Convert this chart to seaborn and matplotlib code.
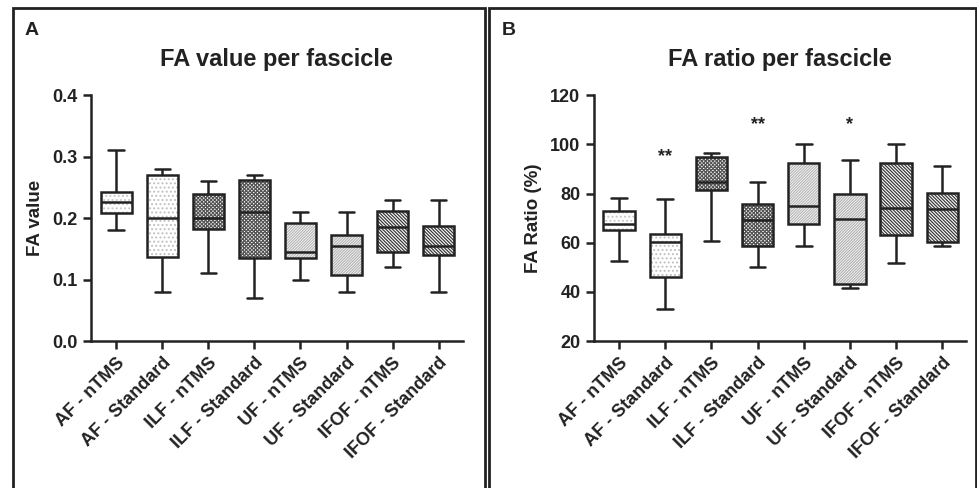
import matplotlib
matplotlib.use('Agg')
import matplotlib.pyplot as plt
import seaborn as sns
import pandas as pd
from matplotlib.patches import Rectangle

# 各组: 最小值, Q1, 中位数, Q3, 最大值
groups = ['AF - nTMS', 'AF - Standard', 'ILF - nTMS', 'ILF - Standard',
          'UF - nTMS', 'UF - Standard', 'IFOF - nTMS', 'IFOF - Standard']

fa_value = [
    [0.18, 0.209, 0.226, 0.243, 0.31],
    [0.08, 0.137, 0.200, 0.270, 0.28],
    [0.11, 0.182, 0.200, 0.240, 0.26],
    [0.07, 0.135, 0.210, 0.262, 0.27],
    [0.10, 0.135, 0.145, 0.192, 0.21],
    [0.08, 0.107, 0.155, 0.172, 0.21],
    [0.12, 0.145, 0.185, 0.212, 0.23],
    [0.08, 0.140, 0.155, 0.188, 0.23],
]

fa_ratio = [
    [52.6, 65.3, 67.5, 72.8, 78.1],
    [33.0, 46.0, 60.5, 63.7, 77.7],
    [60.8, 81.4, 84.8, 94.8, 96.4],
    [50.2, 58.6, 69.2, 75.7, 84.6],
    [58.5, 67.6, 74.9, 92.6, 100.0],
    [41.7, 43.4, 69.6, 80.0, 93.6],
    [51.8, 63.2, 74.1, 92.4, 100.0],
    [58.6, 60.5, 73.8, 80.3, 91.1],
]

# 显著性标记
star_groups = ['AF - Standard', 'ILF - Standard', 'UF - Standard']
star_labels = ['**', '**', '*']
star_y = [95, 108, 108]

hatches = ['....', '....', 'xxxxxxxxx', 'xxxxxxxxx',
           '/' * 12, '/' * 12, '\\' * 10, '\\' * 10]
hatch_colors = ['#c8c8c8', '#c0c0c0', '#555555', '#555555',
                '#b8b8b8', '#b4b4b4', '#3a3a3a', '#3a3a3a']

INK = '#222222'

sns.set_style('ticks')
plt.rcParams['font.family'] = ['Liberation Sans', 'DejaVu Sans']
plt.rcParams['font.weight'] = 'bold'
plt.rcParams['hatch.linewidth'] = 0.9


def to_long(stats):
    rows = []
    for g, vals in zip(groups, stats):
        for v in vals:
            rows.append({'group': g, 'value': v})
    return pd.DataFrame(rows)


def draw_panel(ax, stats, title, ylabel, ylim, yticks, fmt):
    df = to_long(stats)
    sns.boxplot(data=df, x='group', y='value', order=groups, whis=(0, 100),
                width=0.68, color='white', linecolor=INK, linewidth=1.8,
                fliersize=0, ax=ax)
    for patch, h, hc in zip(ax.patches, hatches, hatch_colors):
        patch.set_hatch(h)
        patch.set_facecolor('white')
        patch.set_edgecolor(INK)
        patch._hatch_color = matplotlib.colors.to_rgba(hc)
    ax.set_xlim(-0.55, 7.52)
    ax.set_ylim(*ylim)
    ax.set_yticks(yticks)
    ax.set_yticklabels([fmt.format(t) for t in yticks])
    ax.set_xlabel('')
    ax.set_ylabel(ylabel, fontsize=13.5, fontweight='bold', color=INK, labelpad=6)
    ax.set_title(title, fontsize=17, fontweight='bold', color=INK, pad=21)
    ax.tick_params(axis='both', labelsize=13, width=1.8, length=6, colors=INK)
    plt.setp(ax.get_xticklabels(), rotation=45, ha='right', rotation_mode='anchor')
    for sp in ['left', 'bottom']:
        ax.spines[sp].set_linewidth(1.8)
        ax.spines[sp].set_color(INK)
    sns.despine(ax=ax)


fig = plt.figure(figsize=(9.78, 4.88), dpi=100)
ax1 = fig.add_axes([0.093, 0.301, 0.380, 0.504])
ax2 = fig.add_axes([0.607, 0.301, 0.381, 0.504])

draw_panel(ax1, fa_value, 'FA value per fascicle', 'FA value', (0, 0.4),
           [0.0, 0.1, 0.2, 0.3, 0.4], '{:.1f}')
draw_panel(ax2, fa_ratio, 'FA ratio per fascicle', 'FA Ratio (%)', (20, 120),
           [20, 40, 60, 80, 100, 120], '{:.0f}')

for g, s, y in zip(star_groups, star_labels, star_y):
    ax2.text(groups.index(g), y, s, ha='center', va='center', fontsize=13,
             fontweight='bold', color=INK)

# 面板边框和标签
fig.patches.append(Rectangle((0.013, -0.01), 0.483, 0.994, transform=fig.transFigure,
                             fill=False, edgecolor=INK, linewidth=2))
fig.patches.append(Rectangle((0.500, -0.01), 0.498, 0.994, transform=fig.transFigure,
                             fill=False, edgecolor=INK, linewidth=2))
fig.text(0.025, 0.938, 'A', fontsize=14, fontweight='bold', color=INK, va='center')
fig.text(0.513, 0.938, 'B', fontsize=14, fontweight='bold', color=INK, va='center')

fig.savefig('out.png', dpi=100)
